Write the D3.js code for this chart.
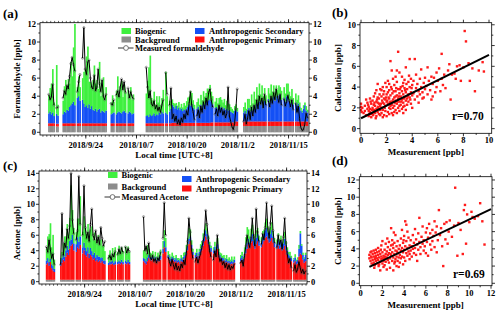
<!DOCTYPE html>
<html><head><meta charset="utf-8">
<script src="https://cdn.jsdelivr.net/npm/d3@7"></script>
<style>
body{margin:0;background:#fff}
svg text{font-family:"Liberation Serif","Times New Roman",serif;font-weight:bold;fill:#000}
</style></head><body>
<svg id="c" width="500" height="313"></svg>
<script>
// ---------- DATA ----------
const seriesStart = [2018, 8, 14, 0]; // local time, 8-hour steps
const stepHours = 8;
const axisStart = [2018, 8, 12, 6], axisEnd = [2018, 10, 20, 6];
const dateTicks = [[2018,8,24],[2018,9,7],[2018,9,20],[2018,10,2],[2018,10,15]];
const dateTickLabels = ["2018/9/24","2018/10/7","2018/10/20","2018/11/2","2018/11/15"];
const hchoYTicks = [0,2,4,6,8,10,12];
const acetoneYTicks = [0,2,4,6,8,10,12,14];
const scatterBTicks = [0,2,4,6,8,10];
const scatterDTicks = [0,2,4,6,8,10,12];

const hchoMeasured = [null,4.2,3.6,3.9,5.3,3.0,null,2.7,2.8,null,null,null,
3.8,4.6,4.2,5.2,4.8,6.2,7.6,8.3,7.5,6.8,null,4.5,5.6,6.4,null,8.2,11.6,7.0,6.4,7.8,8.0,6.0,5.0,4.8,6.3,4.6,5.0,7.0,5.4,4.5,5.8,4.0,3.6,4.2,
null,null,null,3.2,3.0,3.6,null,4.1,4.6,3.9,5.0,5.9,4.7,5.6,4.4,null,4.9,3.8,4.5,4.0,3.7,
null,null,null,null,null,null,null,null,null,
7.2,5.0,3.8,4.6,3.2,2.9,3.5,2.6,3.0,2.4,2.8,2.2,3.0,3.6,null,6.6,4.2,null,3.0,4.9,1.5,2.0,1.2,1.8,0.9,1.4,0.8,1.6,1.1,2.0,1.5,2.4,1.9,3.2,4.5,3.0,2.3,1.4,null,1.8,2.5,1.6,2.9,2.2,3.4,2.6,3.8,3.0,4.4,4.8,3.6,2.8,null,2.0,2.6,1.8,3.0,2.2,2.7,1.9,2.4,1.6,2.1,5.0,1.8,1.2,0.6,0.3,1.0,2.6,4.8,
null,null,null,null,
1.2,2.0,0.9,1.6,2.4,1.4,2.8,1.8,3.0,2.2,3.6,2.6,4.0,3.1,3.8,2.7,4.2,3.0,null,3.5,2.8,4.0,3.2,4.4,3.6,4.8,3.9,3.3,4.2,3.0,null,3.7,2.9,3.4,4.1,3.5,2.8,3.6,2.5,null,3.2,2.2,2.9,1.5,0.5,0.2,0.3,0.9,2.1,1.6];

const hchoSecondary = [null,1.1,1.3,1.0,1.2,0.8,null,1.1,0.9,null,null,null,
1.0,1.3,1.2,1.5,1.4,1.8,2.0,2.2,2.4,2.0,null,2.8,3.0,2.5,null,2.6,2.2,1.8,2.0,1.7,2.1,1.6,1.9,1.5,1.4,1.6,1.3,1.5,1.6,1.2,1.4,1.3,1.2,1.4,
null,null,null,1.0,1.1,1.2,null,1.0,1.2,1.3,1.2,1.1,1.3,1.4,1.2,null,1.1,1.3,1.2,1.0,1.1,
null,null,null,null,null,null,null,null,null,
0.8,0.9,0.7,1.0,0.8,0.9,1.1,0.8,1.0,0.9,1.2,1.0,1.3,1.1,null,1.2,1.0,null,1.3,1.6,2.0,1.8,1.6,1.9,1.5,1.7,1.4,1.6,1.3,1.5,1.4,1.6,1.8,2.0,1.9,2.1,1.7,1.5,null,1.6,1.8,1.4,2.0,1.7,2.2,2.0,2.3,2.4,2.5,2.6,2.3,2.0,null,1.6,1.7,1.5,1.8,1.6,1.7,1.5,1.6,1.4,1.5,1.3,1.4,1.2,1.1,1.0,1.2,1.3,1.1,
null,null,null,null,
1.0,1.2,0.9,1.3,1.5,1.1,1.6,1.2,1.8,1.4,2.0,1.7,2.2,1.9,2.4,1.8,2.3,2.0,null,2.5,2.1,2.6,2.2,2.7,2.3,2.8,2.5,2.9,3.0,2.4,null,2.6,2.2,2.8,2.6,2.3,2.0,2.4,1.9,null,2.1,1.8,2.0,1.6,1.2,1.0,1.4,1.8,1.2,1.0];

const hchoBiogenic = [null,2.0,2.6,3.4,4.8,1.5,null,5.4,1.2,null,null,null,
1.5,2.8,3.6,2.4,3.5,2.6,4.8,3.0,6.0,9.0,null,1.2,2.2,1.5,null,2.4,3.5,4.2,5.4,6.8,2.5,3.0,2.2,3.3,5.0,2.8,3.5,2.3,5.2,1.8,3.0,3.8,1.5,2.6,
null,null,null,1.3,2.0,1.2,null,2.6,4.0,1.8,2.8,3.6,1.6,2.9,2.2,null,2.6,1.9,2.8,1.6,2.1,
null,null,null,null,null,null,null,null,null,
2.5,3.8,5.5,6.5,2.0,1.6,2.4,1.2,2.0,1.4,1.8,1.0,1.5,2.6,null,4.5,2.0,null,1.2,0.8,0.6,0.4,0.5,0.3,0.4,0.6,0.3,0.5,0.4,0.7,0.5,0.8,1.0,0.9,1.6,1.2,0.8,0.5,null,0.7,0.9,0.6,1.1,0.8,1.3,0.9,1.0,1.4,1.2,1.6,1.1,0.9,null,0.7,1.0,0.6,0.9,1.2,0.8,0.7,1.0,0.5,0.9,0.8,0.6,0.5,0.4,0.3,0.5,0.6,0.4,
null,null,null,null,
0.6,0.9,0.5,1.2,1.0,0.7,1.4,0.8,1.5,1.0,1.8,1.2,2.0,1.1,1.6,1.0,1.4,0.9,null,1.2,1.0,1.5,1.1,1.3,0.9,1.2,1.0,1.1,0.8,1.0,null,1.2,0.9,1.4,1.6,1.0,0.8,1.2,0.7,null,1.0,0.6,0.9,0.5,0.3,0.2,0.4,0.3,0.5,0.3];

// daily values (one per day from 2018/9/14)
const hchoBackgroundDaily = [0.7,0.7,0.65,0.7,0.7,0.7,0.7,0.7,0.7,0.7,0.7,0.7,0.7,0.7,0.7,0.7,0.7,0.7,0.7,0.7,0.7,0.7,0.7,0.7,0.7,0.7,0.7,0.7,0.7,0.7,0.7,0.7,0.7,0.7,0.7,0.7,0.7,0.7,0.7,0.7,0.7,0.7,0.7,0.7,0.7,0.7,0.7,0.7,0.7,0.7,0.7,0.7,0.7,0.7,0.7,0.7,0.7,0.7,0.7,0.7,0.7,0.7,0.7,0.7,0.7,0.7,0.7];
const hchoPrimaryDaily = [0.3,0.3,0.3,0.3,0.3,0.3,0.3,0.3,0.3,0.3,0.3,0.3,0.3,0.3,0.3,0.3,0.3,0.3,0.3,0.3,0.3,0.3,0.3,0.3,0.3,0.3,0.3,0.3,0.3,0.3,0.3,0.3,0.35,0.35,0.35,0.35,0.35,0.35,0.35,0.35,0.35,0.35,0.4,0.4,0.4,0.4,0.4,0.4,0.5,0.5,0.5,0.5,0.5,0.5,0.5,0.5,0.5,0.5,0.5,0.5,0.5,0.5,0.5,0.5,0.5,0.5,0.5];

const acetoneMeasured = [4.5,3.8,5.4,4.2,3.0,3.6,2.2,null,null,null,null,
2.2,8.8,3.4,5.0,4.4,6.8,5.6,7.2,14.0,8.0,6.2,null,5.4,6.6,13.6,7.4,null,6.0,12.4,7.0,5.6,6.4,5.2,7.4,9.4,6.0,5.4,6.6,5.0,5.8,4.8,7.0,5.6,4.6,5.2,null,null,
3.0,3.4,2.8,3.6,3.2,3.9,null,3.5,4.2,3.6,4.4,3.8,null,4.5,3.7,4.3,3.9,
null,null,null,null,null,null,null,null,null,null,
8.4,4.0,4.6,3.6,5.0,3.2,2.8,3.4,2.6,3.0,2.4,3.1,2.7,3.8,null,5.6,10.2,6.0,null,3.2,2.6,2.0,2.9,2.2,1.6,2.4,1.5,2.0,1.4,2.3,1.8,2.8,2.2,3.6,5.2,8.2,6.4,4.2,3.0,null,2.6,3.2,2.4,3.0,3.6,4.4,5.2,6.0,9.2,7.4,5.6,4.0,3.2,null,2.8,4.0,3.2,6.0,3.4,2.6,3.0,2.2,2.6,1.8,2.4,1.6,2.2,1.5,2.0,1.7,2.3,
null,null,null,null,
2.4,2.8,2.0,3.4,4.6,6.0,5.0,4.4,5.6,8.2,5.8,4.6,9.4,6.4,5.2,null,4.8,6.2,5.4,7.0,10.2,6.8,5.6,7.6,9.8,6.6,5.0,null,4.4,6.0,4.8,5.4,4.2,5.8,8.2,5.0,3.6,2.4,3.0,1.8,null,1.4,2.2,1.2,1.6,2.6,1.8,1.1,1.6,1.0,1.4];

const acetonePrimary = [2.0,2.2,1.8,2.3,1.5,1.2,1.0,null,null,null,null,
1.8,2.2,2.6,2.4,3.0,3.5,3.2,4.0,4.4,4.6,3.8,null,3.6,4.2,4.0,4.5,null,3.4,3.8,3.2,3.0,3.4,2.8,3.2,3.0,2.6,2.8,2.4,2.6,2.3,2.5,2.2,2.4,2.1,2.0,null,null,
1.9,2.0,2.0,2.1,1.9,2.0,null,2.0,2.1,2.0,2.2,2.0,null,2.1,2.0,2.2,2.0,
null,null,null,null,null,null,null,null,null,null,
2.4,2.2,2.0,2.4,2.8,2.6,2.5,2.7,2.4,2.6,2.3,2.5,2.4,2.6,null,3.4,4.2,3.6,null,2.8,2.6,2.4,2.6,2.5,2.3,2.4,2.2,2.3,2.1,2.4,2.3,2.6,2.8,3.2,3.8,4.6,5.0,4.0,3.2,null,2.8,3.0,2.7,3.1,3.4,3.8,4.4,5.0,5.6,5.2,4.6,4.0,3.6,null,3.4,3.8,3.5,4.0,3.2,2.8,2.6,2.4,2.5,2.2,2.3,2.1,2.2,2.0,2.1,2.0,2.2,
null,null,null,null,
2.4,2.6,2.3,2.8,3.4,4.0,4.6,4.2,4.8,5.0,4.4,4.0,4.6,5.0,4.4,null,4.2,4.6,5.0,5.4,5.6,5.2,4.8,5.0,5.4,4.8,4.2,null,4.0,4.4,4.0,4.2,3.8,4.0,4.4,3.8,3.2,2.8,2.6,2.4,null,2.2,2.4,2.0,2.1,3.0,3.4,3.2,2.6,2.2,2.4];

const acetoneSecondary = [0.5,0.6,0.5,0.4,0.5,0.6,0.4,null,null,null,null,
0.5,0.6,0.7,0.6,0.8,0.9,0.7,1.0,0.8,1.2,0.9,null,1.0,1.3,0.9,1.1,null,0.8,1.0,0.9,0.7,0.8,0.6,0.9,0.7,0.6,0.7,0.5,0.6,0.7,0.5,0.6,0.5,0.4,0.5,null,null,
0.3,0.4,0.3,0.4,0.3,0.4,null,0.3,0.4,0.3,0.4,0.3,null,0.4,0.3,0.4,0.3,
null,null,null,null,null,null,null,null,null,null,
0.4,0.5,0.4,0.5,0.4,0.3,0.4,0.3,0.3,0.4,0.3,0.4,0.3,0.5,null,0.6,0.8,0.6,null,0.4,0.3,0.3,0.4,0.3,0.3,0.4,0.3,0.3,0.3,0.4,0.3,0.4,0.4,0.5,0.6,0.7,0.6,0.5,0.4,null,0.4,0.5,0.4,0.5,0.6,0.7,0.8,0.9,0.8,0.7,0.6,0.5,0.5,null,0.4,0.5,0.4,0.6,0.4,0.4,0.3,0.4,0.3,0.3,0.4,0.3,0.3,0.3,0.4,0.3,0.4,
null,null,null,null,
0.4,0.5,0.4,0.6,0.7,0.8,0.7,0.6,0.8,0.9,0.7,0.6,0.8,0.9,0.7,null,0.6,0.8,0.9,1.0,1.1,0.9,0.8,0.9,1.0,0.8,0.7,null,0.6,0.8,0.7,0.8,0.6,0.7,0.9,0.7,0.6,0.5,0.5,0.4,null,0.4,0.5,0.4,0.5,1.0,2.6,1.2,0.6,0.5,0.8];

const acetoneBiogenic = [1.5,2.8,3.6,4.6,2.2,4.0,1.2,null,null,null,null,
0.5,0.8,1.4,2.6,1.8,2.8,1.5,3.0,7.0,3.2,2.0,null,1.6,2.4,3.0,5.2,null,2.0,3.4,2.6,2.2,3.0,1.8,2.4,3.2,2.0,2.6,2.2,1.6,2.8,1.8,2.4,1.5,2.0,1.2,null,null,
1.0,1.4,0.8,1.6,1.2,1.8,null,1.3,1.9,1.2,1.6,1.4,null,1.8,1.1,1.7,1.3,
null,null,null,null,null,null,null,null,null,null,
1.0,1.4,1.0,1.6,0.8,0.6,0.5,0.7,0.4,0.6,0.4,0.6,0.5,0.8,null,1.0,1.4,1.2,null,0.5,0.4,0.3,0.5,0.3,0.2,0.4,0.3,0.2,0.3,0.4,0.3,0.5,0.4,0.8,1.0,1.4,0.9,0.6,0.4,null,0.3,0.5,0.3,0.4,0.6,0.5,0.8,0.6,0.9,0.7,0.5,0.4,0.3,null,0.4,0.6,0.3,0.8,0.4,0.3,0.5,0.3,0.4,0.3,0.5,0.3,0.4,0.3,0.5,0.3,0.4,
null,null,null,null,
0.4,0.5,0.3,0.8,1.4,2.0,1.2,0.8,1.0,1.2,0.8,0.6,1.0,0.8,0.6,null,0.7,0.9,0.6,1.0,1.2,0.8,0.6,0.9,1.0,0.7,0.5,null,0.6,0.8,0.5,0.7,0.4,0.6,0.9,0.5,0.4,0.3,0.5,0.3,null,0.2,0.4,0.2,0.3,0.5,0.3,0.2,0.3,0.2,0.3];

const acetoneBackgroundDaily = [0.25,0.25,0.25,0.25,0.25,0.25,0.25,0.25,0.25,0.25,0.25,0.25,0.25,0.25,0.25,0.25,0.25,0.25,0.25,0.25,0.25,0.25,0.25,0.25,0.25,0.25,0.25,0.25,0.25,0.25,0.25,0.25,0.25,0.25,0.25,0.25,0.25,0.25,0.25,0.25,0.25,0.25,0.25,0.25,0.25,0.25,0.25,0.25,0.25,0.25,0.25,0.25,0.25,0.25,0.25,0.25,0.25,0.25,0.25,0.25,0.25,0.25,0.25,0.25,0.25,0.25,0.25];

// scatter: [measurement, calculation]
const scatterHCHO = [[0.0,1.8],[0.0,2.1],[0.0,2.4],[0.05,1.6],[0.1,2.0],[0.2,1.5],[0.3,2.2],[0.3,1.7],[0.4,2.8],[0.4,1.3],[0.5,1.9],[0.5,2.5],
[0.6,1.2],[0.6,2.1],[0.7,1.6],[0.7,2.9],[0.7,1.9],[0.8,1.4],[0.8,2.4],[0.8,1.1],[0.9,2.0],[0.9,2.7],[0.9,1.5],[1.0,1.8],[1.0,3.1],[1.0,2.3],[0.6,1.7],[0.75,2.6],[0.85,1.8],[0.95,1.3],[0.55,2.3],[0.65,1.4],
[1.1,1.5],[1.1,2.2],[1.1,3.4],[1.2,1.9],[1.2,2.6],[1.2,1.2],[1.3,2.0],[1.3,3.0],[1.3,1.6],[1.3,4.3],[1.4,2.4],[1.4,1.4],[1.4,2.9],[1.5,1.8],[1.5,3.8],[1.5,2.2],[1.15,1.0],[1.25,2.8],[1.35,2.1],[1.45,3.3],[1.05,2.5],[1.2,3.7],[1.4,1.9],[1.5,1.3],[1.3,2.5],
[1.6,2.0],[1.6,3.1],[1.6,1.5],[1.7,2.5],[1.7,4.0],[1.7,1.8],[1.8,2.9],[1.8,1.3],[1.8,3.6],[1.9,2.2],[1.9,4.4],[1.9,1.7],[2.0,2.6],[2.0,3.3],[2.0,1.2],[1.65,2.7],[1.75,3.3],[1.85,2.0],[1.95,3.0],[1.55,2.4],[1.7,1.1],[1.9,2.8],[2.0,4.0],[1.8,2.4],[1.6,3.7],
[2.1,1.6],[2.1,2.4],[2.1,3.5],[2.2,2.0],[2.2,2.9],[2.2,4.3],[2.2,1.4],[2.3,2.6],[2.3,3.2],[2.3,6.5],[2.3,1.9],[2.4,2.3],[2.4,3.8],[2.4,1.5],[2.5,2.8],[2.5,4.8],[2.5,2.0],[2.15,3.0],[2.25,2.5],[2.35,4.0],[2.45,3.4],[2.05,2.7],[2.4,5.6],[2.5,1.3],[2.2,3.7],[2.3,2.2],[2.45,2.6],[2.1,4.6],
[2.6,2.2],[2.6,3.0],[2.6,4.2],[2.7,1.8],[2.7,2.7],[2.7,3.6],[2.7,5.0],[2.8,2.4],[2.8,3.2],[2.8,1.5],[2.8,4.5],[2.9,2.9],[2.9,7.4],[2.9,2.0],[2.9,3.8],[3.0,2.6],[3.0,3.4],[3.0,5.4],[3.0,1.7],[2.65,2.5],[2.75,3.9],[2.85,2.6],[2.95,3.1],[2.55,3.6],[2.6,1.6],[2.8,5.6],[3.0,2.2],[2.7,3.1],
[3.1,2.3],[3.1,3.1],[3.1,4.0],[3.2,2.8],[3.2,3.6],[3.2,1.9],[3.2,5.0],[3.3,2.5],[3.3,3.3],[3.3,4.4],[3.3,1.5],[3.4,3.0],[3.4,3.9],[3.4,2.2],[3.5,3.5],[3.5,2.7],[3.5,5.9],[3.15,2.6],[3.25,4.1],[3.35,2.9],[3.45,3.7],[3.05,3.8],[3.4,4.7],[3.5,1.8],[3.3,2.1],
[3.6,2.9],[3.6,3.8],[3.6,2.3],[3.7,3.3],[3.7,4.5],[3.7,2.6],[3.8,6.7],[3.8,3.0],[3.8,4.0],[3.9,3.5],[3.9,2.4],[3.9,4.8],[4.0,3.2],[4.0,4.2],[4.0,2.0],[3.65,3.1],[3.75,5.1],[3.85,2.8],[3.95,3.9],[3.55,4.3],
[4.1,3.4],[4.1,4.6],[4.2,6.7],[4.2,2.8],[4.3,3.9],[4.3,5.2],[4.4,3.1],[4.4,4.3],[4.5,3.6],[4.5,2.5],[4.6,4.8],[4.6,3.3],[4.7,4.0],[4.7,5.7],[4.8,3.5],[4.8,2.9],[4.9,4.4],[5.0,3.8],[5.0,4.9],[4.9,3.0],
[5.1,4.1],[5.2,3.3],[5.2,5.9],[5.3,4.6],[5.4,3.7],[5.5,5.0],[5.5,2.8],[5.6,4.3],[5.7,4.9],[5.8,3.5],[5.9,5.4],[6.0,4.6],[5.6,3.1],[5.9,4.0],
[6.1,5.8],[6.2,3.6],[6.3,7.2],[6.3,4.8],[6.5,5.2],[6.6,3.9],[6.8,5.6],[6.9,6.2],[7.0,2.8],[7.1,5.2],[6.4,4.2],
[7.4,4.8],[7.5,6.0],[7.7,6.1],[7.8,4.6],[8.0,5.9],[8.1,9.4],[8.2,8.4],[8.5,4.6],[8.7,5.8],[8.9,3.6],[9.2,5.6],[9.5,6.4],[9.6,5.5],[8.4,6.3],[7.3,5.3]];

const scatterAcetone = [[0.8,2.9],[0.8,3.3],[0.9,2.6],[0.9,3.6],[1.0,2.3],[1.0,3.0],[1.0,3.7],[1.1,2.7],[1.1,3.4],[1.2,2.4],[1.2,3.1],[1.2,3.8],[1.3,2.8],[1.3,3.5],[1.3,2.1],[1.4,3.2],[1.4,2.6],[1.4,3.9],[1.5,2.9],[1.5,3.6],[1.5,2.3],[0.95,3.1],[1.15,2.2],[1.35,3.0],[1.25,1.8],
[1.6,2.7],[1.6,3.3],[1.6,4.1],[1.7,2.2],[1.7,3.0],[1.7,3.7],[1.8,2.5],[1.8,3.4],[1.8,1.5],[1.9,2.8],[1.9,4.4],[1.9,3.1],[2.0,2.3],[2.0,3.6],[2.0,4.9],[2.1,2.6],[2.1,3.2],[2.1,1.9],[2.2,3.9],[2.2,2.9],[2.2,2.1],[2.3,3.4],[2.3,4.6],[2.3,2.5],[2.4,3.0],[2.4,1.6],[2.4,3.7],[2.5,2.7],[2.5,4.2],[2.5,3.3],[1.65,2.0],[1.85,3.9],[2.05,2.9],[2.25,3.1],[2.45,5.2],
[2.6,2.4],[2.6,3.5],[2.6,4.8],[2.7,2.9],[2.7,3.9],[2.7,1.8],[2.8,3.2],[2.8,4.4],[2.8,6.4],[2.9,2.6],[2.9,3.6],[2.9,5.0],[3.0,3.0],[3.0,4.1],[3.0,1.5],[3.1,3.4],[3.1,2.3],[3.1,4.7],[3.2,2.8],[3.2,3.8],[3.2,5.6],[3.3,3.1],[3.3,4.3],[3.3,2.0],[3.4,3.5],[3.4,2.6],[3.4,4.9],[3.5,3.0],[3.5,4.0],[3.5,1.9],[2.75,3.4],[2.95,4.5],[3.15,2.5],[3.35,3.7],[3.05,5.9],
[3.6,3.3],[3.6,4.4],[3.6,2.4],[3.7,3.8],[3.7,5.2],[3.7,2.9],[3.8,4.1],[3.8,3.1],[3.8,6.2],[3.9,3.6],[3.9,4.7],[3.9,2.2],[4.0,3.9],[4.0,5.5],[4.0,3.0],[4.1,4.3],[4.1,2.6],[4.1,7.2],[4.2,3.5],[4.2,4.9],[4.3,3.2],[4.3,4.1],[4.3,6.0],[4.4,3.7],[4.4,5.3],[4.5,2.8],[4.5,4.4],[4.5,3.4],[4.2,6.8],[3.95,5.0],
[4.6,3.8],[4.6,5.0],[4.7,4.3],[4.7,3.1],[4.8,5.6],[4.8,4.0],[4.9,3.5],[4.9,4.7],[5.0,6.3],[5.0,4.1],[5.1,3.3],[5.1,5.1],[5.2,4.5],[5.2,2.6],[5.3,5.8],[5.3,3.9],[5.4,4.8],[5.4,7.6],[5.5,4.2],[5.5,3.4],[5.6,5.4],[5.7,4.6],[5.7,6.6],[5.8,3.8],[5.8,5.0],[5.9,4.3],[6.0,5.9],[6.0,3.5],
[6.1,4.8],[6.1,6.4],[6.2,5.3],[6.2,3.2],[6.3,6.9],[6.4,4.5],[6.4,5.8],[6.5,3.9],[6.6,6.2],[6.6,4.9],[6.7,5.5],[6.8,7.2],[6.8,4.2],[6.9,5.9],[7.0,3.6],[7.0,6.6],[7.1,5.0],[7.2,8.5],[7.3,5.6],[7.4,6.4],[7.5,4.3],[7.6,2.0],[7.7,6.9],[7.8,5.1],[7.9,7.1],
[8.1,6.0],[8.2,7.3],[8.4,5.4],[8.6,6.7],[8.7,11.1],[8.9,3.2],[9.0,7.0],[9.2,6.2],[9.4,3.4],[9.5,8.5],[9.6,9.1],[9.7,4.6],[9.8,8.0],[10.0,7.1],[10.2,8.3],[10.3,7.7],[10.5,7.5],[10.8,7.8],[11.0,9.3],[11.2,7.2],[11.4,4.5],[8.0,4.6]];

const fitHCHO = {intercept: 1.0, slope: 0.61, from: 0, to: 10};
const fitAcetone = {intercept: 1.42, slope: 0.6, from: 0.8, to: 12};
const rLabels = ["r=0.70", "r=0.69"];

const colors = {bio:"#3ff03f", bg:"#8c8c8c", sec:"#1450f5", prim:"#ff1010", pt:"#ff1a1a"};

// ---------- DRAW ----------
const svg = d3.select("#c");
const D = a => new Date(a[0], a[1], a[2], a[3]||0);
const t0 = D(seriesStart);
const tAt = i => new Date(t0.getTime() + i*stepHours*3600e3);
const dayOf = i => Math.floor(i*stepHours/24);

function text(g, x, y, s, size, anchor, rot){
  const t = g.append("text").attr("x",x).attr("y",y).attr("font-size",size).attr("text-anchor",anchor||"start").text(s);
  if (rot) t.attr("transform",`rotate(-90,${x},${y})`);
  return t;
}
function ln(g,x1,y1,x2,y2,w){ g.append("line").attr("x1",x1).attr("y1",y1).attr("x2",x2).attr("y2",y2).attr("stroke","#000").attr("stroke-width",w||0.8); }

function drawTS(o){
  const g = svg.append("g");
  const x = d3.scaleTime().domain([D(axisStart), D(axisEnd)]).range(o.xr);
  const y = d3.scaleLinear().domain(o.yd).range(o.yr);
  const [L,R] = o.xr, [B,T] = o.yr;
  const clipId = "clip"+o.id;
  g.append("clipPath").attr("id",clipId).append("rect").attr("x",L).attr("y",T).attr("width",R-L).attr("height",B-T);
  const plot = g.append("g").attr("clip-path",`url(#${clipId})`);
  const n = o.meas.length;
  for (let i=0;i<n;i++){
    const vals = o.layers.map(l=>l.get(i));
    if (vals.some(v=>v==null)) continue;
    const xa = x(tAt(i)), xb = x(tAt(i+1));
    let base = 0;
    vals.forEach((v,k)=>{
      plot.append("rect").attr("x",xa).attr("width",xb-xa+0.35)
        .attr("y",y(base+v)).attr("height",y(base)-y(base+v)).attr("fill",o.layers[k].color);
      base += v;
    });
  }
  const md = o.meas.map((v,i)=>({t:new Date(tAt(i).getTime()+stepHours*1800e3), v}));
  plot.selectAll("circle.m").data(md.filter(d=>d.v!=null)).join("circle")
    .attr("cx",d=>x(d.t)).attr("cy",d=>y(d.v)).attr("r",1.1)
    .attr("fill","none").attr("stroke","#555").attr("stroke-width",0.5);
  plot.append("path").datum(md).attr("fill","none").attr("stroke","#000").attr("stroke-width",1)
    .attr("d", d3.line().defined(d=>d.v!=null).x(d=>x(d.t)).y(d=>y(d.v)));
  // frame
  g.append("rect").attr("x",L).attr("y",T).attr("width",R-L).attr("height",B-T).attr("fill","none").attr("stroke","#000").attr("stroke-width",0.8);
  // y ticks both sides
  o.yt.forEach(v=>{
    const yy = y(v);
    ln(g,L-3,yy,L,yy); ln(g,R,yy,R+3,yy);
    text(g,L-4,yy+3,String(v),8.5,"end");
    text(g,R+4,yy+3,String(v),8.5,"start");
    if (v+1 <= o.yd[1]) { const ym = y(v+1); ln(g,L-1.6,ym,L,ym); ln(g,R,ym,R+1.6,ym); }
  });
  // x ticks: daily minor on top and bottom
  d3.timeDay.range(D(axisStart), D(axisEnd)).forEach(d=>{
    const xx = x(d); ln(g,xx,B,xx,B+1.8,0.6); ln(g,xx,T,xx,T-1.8,0.6);
  });
  dateTicks.forEach((a,k)=>{
    const xx = x(D(a)); ln(g,xx,B,xx,B+3.5); ln(g,xx,T,xx,T-3.5);
    text(g,xx,B+13,dateTickLabels[k],8.5,"middle");
  });
  text(g,174,B+23,"Local time [UTC+8]",9,"middle");
  text(g,19.5,o.titleY,o.title,9,"middle",true);
  text(g,3,o.letterY,o.letter,13,"start");
  // legend
  const lg = o.legend;
  const sw = (xx,yy,c)=>g.append("rect").attr("x",xx).attr("y",yy-3).attr("width",9.5).attr("height",6).attr("fill",c);
  sw(lg.x1, lg.r1, colors.bio); text(g,lg.x1+13.5,lg.r1+3,"Biogenic",8.5);
  sw(lg.x1, lg.r2, colors.bg); text(g,lg.x1+13.5,lg.r2+3,"Background",8.5);
  ln(g,lg.x1-3.5,lg.r3,lg.x1+12,lg.r3,0.8);
  g.append("circle").attr("cx",lg.x1+4.5).attr("cy",lg.r3).attr("r",2.4).attr("fill","#fff").attr("stroke","#555").attr("stroke-width",0.8);
  text(g,lg.x1+13.5,lg.r3+3,o.measLabel,8.5);
  sw(lg.x2, lg.s1, colors.sec); text(g,lg.x2+14,lg.s1+3,"Anthropogenic Secondary",8.5);
  sw(lg.x2, lg.s2, colors.prim); text(g,lg.x2+14,lg.s2+3,"Anthropogenic Primary",8.5);
}

drawTS({id:"a", xr:[40,309], yd:[-0.3,12.14], yr:[135,22.7], yt:hchoYTicks,
  meas:hchoMeasured, title:"Formaldehyde [ppb]", titleY:79, letter:"(a)", letterY:18,
  measLabel:"Measured formaldehyde",
  layers:[{get:i=>hchoMeasured[i]==null?null:hchoBackgroundDaily[dayOf(i)], color:colors.bg},
          {get:i=>hchoMeasured[i]==null?null:hchoPrimaryDaily[dayOf(i)], color:colors.prim},
          {get:i=>hchoSecondary[i], color:colors.sec},
          {get:i=>hchoBiogenic[i], color:colors.bio}],
  legend:{x1:121.5, r1:31, r2:39.5, r3:48, x2:195, s1:31, s2:39.5}});

drawTS({id:"c", xr:[39,307], yd:[-0.3,14.3], yr:[284,171], yt:acetoneYTicks,
  meas:acetoneMeasured, title:"Acetone [ppb]", titleY:233, letter:"(c)", letterY:170,
  measLabel:"Measured Acetone",
  layers:[{get:i=>acetoneMeasured[i]==null?null:acetoneBackgroundDaily[dayOf(i)], color:colors.bg},
          {get:i=>acetonePrimary[i], color:colors.prim},
          {get:i=>acetoneSecondary[i], color:colors.sec},
          {get:i=>acetoneBiogenic[i], color:colors.bio}],
  legend:{x1:108, r1:175, r2:186.5, r3:197, x2:182, s1:179, s2:188.5}});

function drawScatter(o){
  const g = svg.append("g");
  const x = d3.scaleLinear().domain(o.xd).range(o.xr);
  const y = d3.scaleLinear().domain(o.yd).range(o.yr);
  const [L,R] = o.xr, [B,T] = o.yr;
  g.selectAll("rect.p").data(o.data).join("rect")
    .attr("x",d=>x(d[0])-1.2).attr("y",d=>y(d[1])-1.2).attr("width",2.4).attr("height",2.4).attr("fill",colors.pt);
  g.append("line").attr("x1",x(o.fit.from)).attr("y1",y(o.fit.intercept+o.fit.slope*o.fit.from))
    .attr("x2",x(o.fit.to)).attr("y2",y(o.fit.intercept+o.fit.slope*o.fit.to)).attr("stroke","#000").attr("stroke-width",2);
  g.append("rect").attr("x",L).attr("y",T).attr("width",R-L).attr("height",B-T).attr("fill","none").attr("stroke","#000").attr("stroke-width",0.8);
  o.xt.forEach(v=>{
    const xx = x(v); ln(g,xx,B,xx,B+3); ln(g,xx,T,xx,T-3);
    text(g,xx,B+10,String(v),8.5,"middle");
    if (v+1 < o.xd[1]) { const xm = x(v+1); ln(g,xm,B,xm,B+1.6); ln(g,xm,T,xm,T-1.6); }
  });
  o.yt.forEach(v=>{
    const yy = y(v); ln(g,L-3,yy,L,yy); ln(g,R,yy,R+3,yy);
    text(g,L-4,yy+3,String(v),8.5,"end");
    if (v+1 < o.yd[1]) { const ym = y(v+1); ln(g,L-1.6,ym,L,ym); ln(g,R,ym,R+1.6,ym); }
  });
  text(g,(L+R)/2,o.xTitleY,"Measurement [ppb]",9,"middle");
  text(g,341,(T+B)/2,"Calculation [ppb]",9,"middle",true);
  text(g,332,o.letterY,o.letter,13,"start");
  text(g,o.rX,o.rY,o.r,11.5,"start");
}

drawScatter({xd:[-0.08,10.21], xr:[360,491.7], yd:[-0.45,10.2], yr:[133.3,22.7], xt:scatterBTicks, yt:scatterBTicks,
  data:scatterHCHO, fit:fitHCHO, xTitleY:155, letter:"(b)", letterY:17, r:rLabels[0], rX:452, rY:120});
drawScatter({xd:[-0.13,12.09], xr:[359.3,492], yd:[-0.28,12.38], yr:[285.7,176.7], xt:scatterDTicks, yt:scatterDTicks,
  data:scatterAcetone, fit:fitAcetone, xTitleY:308, letter:"(d)", letterY:165, r:rLabels[1], rX:453, rY:278});
</script>
</body></html>
